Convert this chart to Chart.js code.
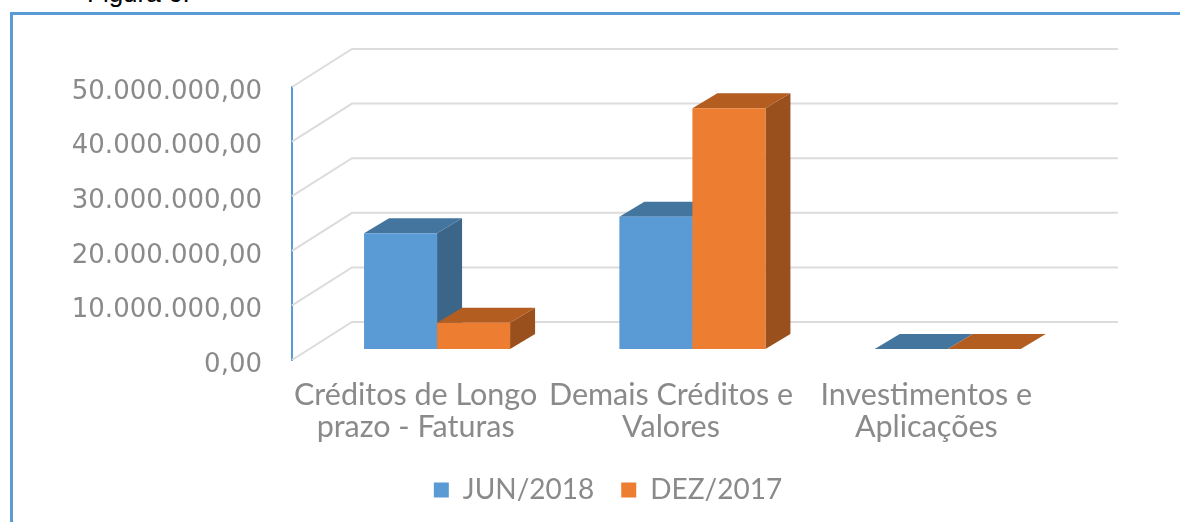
<!DOCTYPE html>
<html lang="pt">
<head>
<meta charset="utf-8">
<title>Figura 6</title>
<script src="https://cdn.jsdelivr.net/npm/chart.js@4"></script>
<style>
	html, body { margin: 0; padding: 0; background: #fff; overflow: hidden; }
	#page { position: relative; width: 1180px; height: 522px; overflow: hidden; }
	#caption { position: absolute; left: 87px; top: -20px; font: 26px/26px "Liberation Sans", sans-serif; color: #000; }
	#frame { position: absolute; left: 10px; top: 12px; right: 0; bottom: 0; border-left: 3px solid #5b9bd5; border-top: 3px solid #5b9bd5; }
	#chart { position: absolute; left: 0; top: 0; }
</style>
</head>
<body>
<div id="page">
	<div id="caption">Figura 6:</div>
	<div id="frame"></div>
	<canvas id="chart" width="1180" height="522"></canvas>
</div>
<script>
'use strict';

// Data
var categories = [
	['Créditos de Longo', 'prazo - Faturas'],
	['Demais Créditos e', 'Valores'],
	['Investimentos e', 'Aplicações']
];
var jun2018 = [21200000, 24200000, 0];
var dez2017 = [4800000, 44100000, 0];
var tickLabels = ['0,00', '10.000.000,00', '20.000.000,00', '30.000.000,00', '40.000.000,00', '50.000.000,00'];

var textColor = '#8a8a8a';

// Fake 3D: left wall and back wall grid, bars sit part way into the depth
var fake3d = {
	id: 'fake3d',
	beforeDatasetsDraw: function (chart) {
		var ctx = chart.ctx;
		var area = chart.chartArea;
		var yScale = chart.scales.y;
		var wallX = 60, wallY = -38, backRight = 1118;
		var barShiftX = 17.4, barShiftY = -11;
		var depthX = 25, depthY = -15;
		var shades = [
			{ side: '#3b668a', top: '#44759f' },
			{ side: '#99501c', top: '#b35d20' }
		];

		ctx.save();
		ctx.strokeStyle = '#dcdcdc';
		ctx.lineWidth = 2;
		yScale.ticks.forEach(function (tick) {
			var y = yScale.getPixelForValue(tick.value);
			ctx.beginPath();
			ctx.moveTo(area.left, y);
			ctx.lineTo(area.left + wallX, y + wallY);
			ctx.lineTo(backRight, y + wallY);
			ctx.stroke();
		});

		ctx.translate(barShiftX, barShiftY);
		// dataset 0 goes first so the orange bars overlap the blue ones
		chart.getSortedVisibleDatasetMetas().forEach(function (meta, i) {
			meta.data.forEach(function (bar) {
				var right = bar.x + bar.width / 2;
				var left = bar.x - bar.width / 2;
				ctx.fillStyle = shades[i].side;
				ctx.beginPath();
				ctx.moveTo(right, bar.y);
				ctx.lineTo(right + depthX, bar.y + depthY);
				ctx.lineTo(right + depthX, bar.base + depthY);
				ctx.lineTo(right, bar.base);
				ctx.closePath();
				ctx.fill();
				ctx.fillStyle = shades[i].top;
				ctx.beginPath();
				ctx.moveTo(left, bar.y);
				ctx.lineTo(left + depthX, bar.y + depthY);
				ctx.lineTo(right + depthX, bar.y + depthY);
				ctx.lineTo(right, bar.y);
				ctx.closePath();
				ctx.fill();
			});
			meta.controller.draw();
		});
		ctx.restore();
		return false;
	}
};

var chart = new Chart(document.getElementById('chart'), {
	type: 'bar',
	data: {
		labels: categories,
		datasets: [{
			label: 'JUN/2018',
			data: jun2018,
			backgroundColor: '#5b9bd5',
			borderWidth: 0,
			categoryPercentage: 0.572,
			barPercentage: 1
		}, {
			label: 'DEZ/2017',
			data: dez2017,
			backgroundColor: '#ed7d31',
			borderWidth: 0,
			categoryPercentage: 0.572,
			barPercentage: 1
		}]
	},
	options: {
		responsive: false,
		animation: false,
		layout: {
			autoPadding: false,
			padding: { left: 36, right: 0, top: 87, bottom: 8 }
		},
		plugins: {
			tooltip: { enabled: false },
			legend: {
				position: 'bottom',
				labels: {
					boxWidth: 15,
					boxHeight: 15,
					padding: 27,
					color: textColor,
					font: { family: 'Lato', size: 28 }
				}
			}
		},
		scales: {
			x: {
				grid: { display: false, drawTicks: false },
				border: { display: false },
				afterFit: function (scale) { scale.height = 89; },
				ticks: {
					autoSkip: false,
					maxRotation: 0,
					padding: 19,
					labelOffset: -4,
					color: textColor,
					font: { family: 'Lato', size: 30.5, lineHeight: 1.05 }
				}
			},
			y: {
				min: 0,
				max: 50000000,
				afterFit: function (scale) { scale.width = 256; },
				grid: { display: false, drawTicks: false },
				border: { display: true, color: '#5b9bd5', width: 2 },
				ticks: {
					stepSize: 10000000,
					padding: 30,
					labelOffset: 5,
					color: textColor,
					font: { family: 'DejaVu Sans', size: 26 },
					callback: function (value, index) { return tickLabels[index]; }
				}
			},
			// empty axis, only keeps the plot clear of the right side
			spacer: {
				type: 'linear',
				position: 'right',
				afterFit: function (scale) { scale.width = 122; },
				grid: { display: false, drawTicks: false },
				border: { display: false },
				ticks: { display: false }
			}
		}
	},
	plugins: [fake3d]
});
</script>
</body>
</html>
